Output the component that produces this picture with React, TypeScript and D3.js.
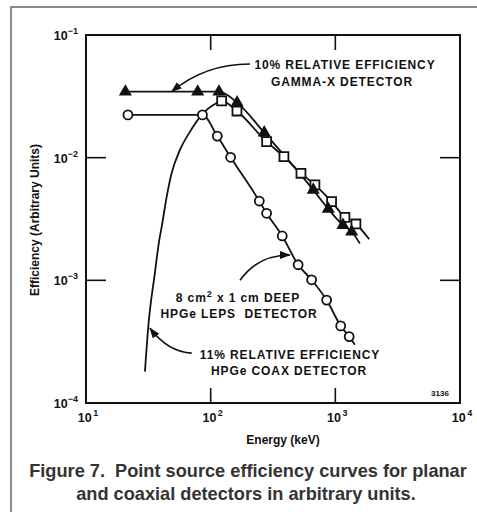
import * as d3 from "d3";
import React from "react";

// Gamma-X detector (filled triangles)
const gammaXEnergy = [20.7, 78.7, 116.6, 163, 269, 665, 878, 1151, 1352];
const gammaXEff = [0.0345, 0.0345, 0.0345, 0.0281, 0.016, 0.00546, 0.00382, 0.00282, 0.00249];
const gammaXLineEnd = [1574, 0.002];

// HPGe coax detector: low energy curve, then open squares
const coaxCurveEnergy = [29.7, 31.6, 35.7, 38.7, 40.5, 44.4, 48.6, 56.7, 68.3, 84.7, 112];
const coaxCurveEff = [1.8e-4, 4.2e-4, 1.15e-3, 2.13e-3, 2.74e-3, 4.81e-3, 7.46e-3, 0.01156, 0.0163, 0.0223, 0.0279];
const coaxEnergy = [122.5, 162.5, 281, 387, 530, 686, 933, 1194, 1462];
const coaxEff = [0.029, 0.024, 0.0135, 0.0102, 0.00746, 0.006, 0.00438, 0.00326, 0.00288];
const coaxLineEnd = [1871, 0.00216];

// HPGe LEPS detector (open circles)
const lepsEnergy = [21.7, 85.9, 113, 144.6, 245.5, 281, 375, 503, 645, 852, 1104, 1291];
const lepsEff = [0.0223, 0.0223, 0.015, 0.01007, 0.00443, 0.00352, 0.0023, 0.00134, 0.00101, 0.00069, 0.000425, 0.000348];
const lepsLineEnd = [1435, 0.000298];

const xTicks = [10, 100, 1000, 10000];
const xTickExp = ["1", "2", "3", "4"];
const yTicks = [1e-1, 1e-2, 1e-3, 1e-4];
const yTickExp = ["\u22121", "\u22122", "\u22123", "\u22124"];

// annotation arrows: [start, control, tip] in data units
const gammaArrow = [[206.5, 0.058], [90, 0.058], [48.7, 0.0345]];
const lepsArrow = [[172, 1.0e-3], [239, 1.61e-3], [432, 1.61e-3]];
const coaxArrow = [[70.5, 2.55e-4], [45.5, 2.61e-4], [32.6, 4.07e-4]];

const font = "'Liberation Sans', Arial, Helvetica, sans-serif";
const ink = "#111";

export default function App() {
  const left = 86, right = 460, top = 35, bottom = 403;

  const x = d3.scaleLog().domain([10, 10000]).range([left, right]);
  const y = d3.scaleLog().domain([1e-1, 1e-4]).range([top, bottom]);

  const line = d3
    .line<number[]>()
    .x((d) => x(d[0]))
    .y((d) => y(d[1]))
    .curve(d3.curveMonotoneX);

  const gammaPts = gammaXEnergy.map((e, i) => [e, gammaXEff[i]]);
  const coaxCurvePts = coaxCurveEnergy.map((e, i) => [e, coaxCurveEff[i]]);
  const coaxPts = coaxEnergy.map((e, i) => [e, coaxEff[i]]);
  const lepsPts = lepsEnergy.map((e, i) => [e, lepsEff[i]]);

  const tri = d3.symbol(d3.symbolTriangle, 74)();
  const sq = d3.symbol(d3.symbolSquare, 80)();

  const arrowPath = (a: number[][]) =>
    `M${x(a[0][0])},${y(a[0][1])} Q${x(a[1][0])},${y(a[1][1])} ${x(a[2][0])},${y(a[2][1])}`;

  const annoStyle = { fontFamily: font, fontWeight: 700, fontSize: 12, letterSpacing: 0.9, fill: ink };

  return (
    <svg
      width={477}
      height={512}
      style={{ position: "absolute", left: 0, top: 0, background: "#fff" }}
    >
      <defs>
        <marker
          id="head"
          markerUnits="userSpaceOnUse"
          markerWidth={11}
          markerHeight={8}
          refX={10}
          refY={4}
          orient="auto"
        >
          <path d="M0,0 L11,4 L0,8 z" fill={ink} />
        </marker>
      </defs>

      {/* outer frame */}
      <rect x={11} y={7} width={520} height={540} fill="none" stroke="#666" strokeWidth={1.5} />

      {/* plot box */}
      <rect
        x={left}
        y={top}
        width={right - left}
        height={bottom - top}
        fill="none"
        stroke={ink}
        strokeWidth={2}
      />

      {/* inside ticks */}
      {xTicks.slice(1, -1).map((t) => (
        <g key={`xt-${t}`} stroke={ink} strokeWidth={1.6}>
          <line x1={x(t)} x2={x(t)} y1={top} y2={top + 15} />
          <line x1={x(t)} x2={x(t)} y1={bottom} y2={bottom - 15} />
        </g>
      ))}
      {yTicks.slice(1, -1).map((t) => (
        <g key={`yt-${t}`} stroke={ink} strokeWidth={1.6}>
          <line x1={left} x2={left + 20} y1={y(t)} y2={y(t)} />
          <line x1={right} x2={right - 20} y1={y(t)} y2={y(t)} />
        </g>
      ))}

      {/* tick labels */}
      {yTicks.map((t, i) => (
        <text
          key={`yl-${t}`}
          x={78}
          y={y(t) + 5}
          textAnchor="end"
          fontFamily={font}
          fontWeight={700}
          fontSize={12.5}
          fill={ink}
        >
          10
          <tspan dy={-6} fontSize={9}>
            {yTickExp[i]}
          </tspan>
        </text>
      ))}
      {xTicks.map((t, i) => (
        <text
          key={`xl-${t}`}
          x={x(t) + 2}
          y={422}
          textAnchor="middle"
          fontFamily={font}
          fontWeight={700}
          fontSize={12.5}
          fill={ink}
        >
          10
          <tspan dy={-6} dx={1.5} fontSize={9}>
            {xTickExp[i]}
          </tspan>
        </text>
      ))}

      {/* axis titles */}
      <text
        x={(left + right) / 2 + 10}
        y={444}
        textAnchor="middle"
        fontFamily={font}
        fontWeight={700}
        fontSize={12}
        fill={ink}
      >
        Energy (keV)
      </text>
      <text
        transform={`translate(39, 220) rotate(-90)`}
        textAnchor="middle"
        fontFamily={font}
        fontWeight={700}
        fontSize={12}
        fill={ink}
      >
        Efficiency (Arbitrary Units)
      </text>

      {/* data lines */}
      <g fill="none" stroke={ink} strokeWidth={1.8}>
        <path d={line([...gammaPts, gammaXLineEnd]) || ""} />
        <path d={line([...coaxCurvePts, ...coaxPts, coaxLineEnd]) || ""} />
        <path d={line([...lepsPts, lepsLineEnd]) || ""} />
      </g>

      {/* markers */}
      {coaxPts.map((d, i) => (
        <path
          key={`sq-${i}`}
          d={sq || ""}
          transform={`translate(${x(d[0])},${y(d[1])})`}
          fill="#fff"
          stroke={ink}
          strokeWidth={1.8}
        />
      ))}
      {lepsPts.map((d, i) => (
        <circle
          key={`ci-${i}`}
          cx={x(d[0])}
          cy={y(d[1])}
          r={4.5}
          fill="#fff"
          stroke={ink}
          strokeWidth={1.8}
        />
      ))}
      {gammaPts.map((d, i) => (
        <path
          key={`tr-${i}`}
          d={tri || ""}
          transform={`translate(${x(d[0])},${y(d[1])})`}
          fill={ink}
        />
      ))}

      {/* annotation arrows */}
      <g fill="none" stroke={ink} strokeWidth={1.6} markerEnd="url(#head)">
        <path d={arrowPath(gammaArrow)} />
        <path d={arrowPath(lepsArrow)} />
        <path d={arrowPath(coaxArrow)} />
      </g>

      {/* annotation text */}
      <g textAnchor="middle">
        <text x={345} y={69} {...annoStyle}>10% RELATIVE EFFICIENCY</text>
        <text x={342} y={86} {...annoStyle}>GAMMA-X DETECTOR</text>
        <text x={238} y={302} {...annoStyle}>
          8 cm
          <tspan dy={-5} fontSize={9}>2</tspan>
          <tspan dy={5}> x 1 cm DEEP</tspan>
        </text>
        <text x={239} y={318} xmlSpace="preserve" {...annoStyle}>HPGe LEPS  DETECTOR</text>
        <text x={290} y={359} {...annoStyle}>11% RELATIVE EFFICIENCY</text>
        <text x={289} y={375} {...annoStyle}>HPGe COAX DETECTOR</text>
      </g>

      <text x={440} y={396} textAnchor="middle" fontFamily={font} fontWeight={700} fontSize={8} fill={ink}>
        3136
      </text>

      {/* caption */}
      <g textAnchor="middle" fontFamily={font} fontWeight={700} fontSize={18.2} fill="#333">
        <text x={248} y={477} xmlSpace="preserve">Figure 7.  Point source efficiency curves for planar</text>
        <text x={246} y={500}>and coaxial detectors in arbitrary units.</text>
      </g>
    </svg>
  );
}
